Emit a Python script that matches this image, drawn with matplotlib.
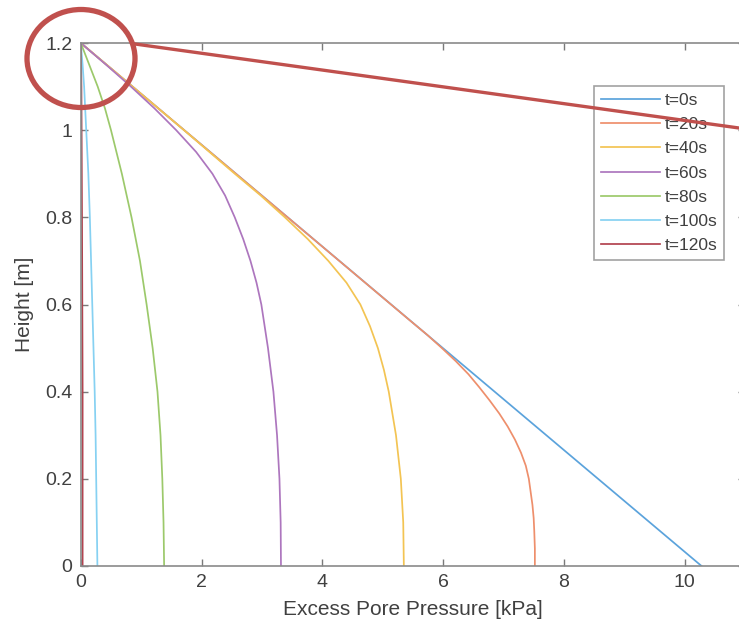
import matplotlib
matplotlib.use("Agg")
import matplotlib.pyplot as plt
from matplotlib.patches import Ellipse
from matplotlib.lines import Line2D

plt.rcParams['font.family'] = ['Liberation Sans', 'DejaVu Sans']

# ---- data (pressure kPa, height m) ----
labels = ["t=0s", "t=20s", "t=40s", "t=60s", "t=80s", "t=100s", "t=120s"]
colors = ["#5ba3dc", "#ee8f6c", "#f3c453", "#ad76be", "#9cc96b", "#86d1f2", "#b2434f"]

p_t0 = [0.0, 10.28]
h_t0 = [1.2, 0.0]

p_t20 = [0.0, 5.48, 5.74, 5.98, 6.21, 6.42, 6.60, 6.77, 6.93, 7.07, 7.19,
         7.29, 7.37, 7.42, 7.45, 7.48, 7.50, 7.51, 7.52, 7.52]
h_t20 = [1.2, 0.56, 0.53, 0.50, 0.47, 0.44, 0.41, 0.38, 0.35, 0.32, 0.29,
         0.26, 0.23, 0.20, 0.17, 0.14, 0.11, 0.08, 0.04, 0.0]

p_t40 = [0.0, 1.71, 2.55, 2.98, 3.38, 3.76, 4.10, 4.40, 4.63, 4.79, 4.92,
         5.02, 5.10, 5.22, 5.30, 5.34, 5.35]
h_t40 = [1.2, 1.0, 0.9, 0.85, 0.80, 0.75, 0.70, 0.65, 0.60, 0.55, 0.50,
         0.45, 0.40, 0.30, 0.20, 0.10, 0.0]

p_t60 = [0.0, 0.42, 0.83, 1.22, 1.58, 1.91, 2.18, 2.39, 2.55, 2.69, 2.81,
         2.91, 2.99, 3.10, 3.19, 3.25, 3.29, 3.31, 3.315]
h_t60 = [1.2, 1.15, 1.10, 1.05, 1.00, 0.95, 0.90, 0.85, 0.80, 0.75, 0.70,
         0.65, 0.60, 0.50, 0.40, 0.30, 0.20, 0.10, 0.0]

p_t80 = [0.0, 0.14, 0.28, 0.40, 0.50, 0.68, 0.84, 0.98, 1.09, 1.19, 1.27,
         1.32, 1.35, 1.37, 1.38]
h_t80 = [1.2, 1.15, 1.10, 1.05, 1.00, 0.90, 0.80, 0.70, 0.60, 0.50, 0.40,
         0.30, 0.20, 0.10, 0.0]

p_t100 = [0.0, 0.03, 0.055, 0.09, 0.125, 0.15, 0.17, 0.19, 0.21, 0.23,
          0.245, 0.255, 0.265, 0.275]
h_t100 = [1.2, 1.15, 1.10, 1.00, 0.90, 0.80, 0.70, 0.60, 0.50, 0.40,
          0.30, 0.20, 0.10, 0.0]

p_t120 = [0.0, 0.01, 0.02, 0.03, 0.03]
h_t120 = [1.2, 1.1, 0.8, 0.4, 0.0]

series_p = [p_t0, p_t20, p_t40, p_t60, p_t80, p_t100, p_t120]
series_h = [h_t0, h_t20, h_t40, h_t60, h_t80, h_t100, h_t120]

xticks = [0, 2, 4, 6, 8, 10]
yticks = [0, 0.2, 0.4, 0.6, 0.8, 1.0, 1.2]
ytick_labels = ["0", "0.2", "0.4", "0.6", "0.8", "1", "1.2"]

W, H = 739, 634
fig = plt.figure(figsize=(W / 100, H / 100), dpi=100)
# axes box in pixels: left 80.8, right 745, top 43, bottom 566
ax = fig.add_axes([80.8 / W, (H - 566) / H, (745 - 80.8) / W, (566 - 43) / H])

lines = []
for p, h, c, lab in zip(series_p, series_h, colors, labels):
    ln, = ax.plot(p, h, color=c, lw=1.25, label=lab)
    lines.append(ln)

ax.set_xlim(0, 11)
ax.set_ylim(0, 1.2)
ax.set_xticks(xticks)
ax.set_yticks(yticks)
ax.set_yticklabels(ytick_labels)
ax.tick_params(direction='in', top=True, right=True, length=5, width=1,
               colors='#7a7a7a', labelcolor='#404040', labelsize=14, pad=6)
for s in ax.spines.values():
    s.set_color('#8a8a8a')
    s.set_linewidth(1.2)

ax.set_xlabel("Excess Pore Pressure [kPa]", fontsize=15, color='#404040', labelpad=6)
ax.set_ylabel("Height [m]", fontsize=15, color='#404040', labelpad=8)

leg = fig.legend(handles=lines, loc='upper left',
                 bbox_to_anchor=(594 / W, 1 - 86 / H), fontsize=12.5,
                 frameon=True, fancybox=False, handlelength=3.4,
                 handletextpad=0.25, labelspacing=0.52, borderpad=0.4,
                 borderaxespad=0)
leg.get_frame().set_edgecolor('#8a8a8a')
leg.get_frame().set_linewidth(1.2)
for t in leg.get_texts():
    t.set_color('#404040')

# red annotation (circle + pointer line), in figure pixel fractions
ann_color = '#c0504d'
ell = Ellipse((81 / W, 1 - 58.5 / H), width=108 / W, height=98 / H,
              transform=fig.transFigure, fill=False, edgecolor=ann_color,
              linewidth=3.8, zorder=20)
fig.add_artist(ell)
fig.add_artist(Line2D([135 / W, 1.0], [1 - 44 / H, 1 - 128 / H],
                      transform=fig.transFigure, color=ann_color,
                      linewidth=2.4, zorder=20))

fig.savefig("out.png", dpi=100)
